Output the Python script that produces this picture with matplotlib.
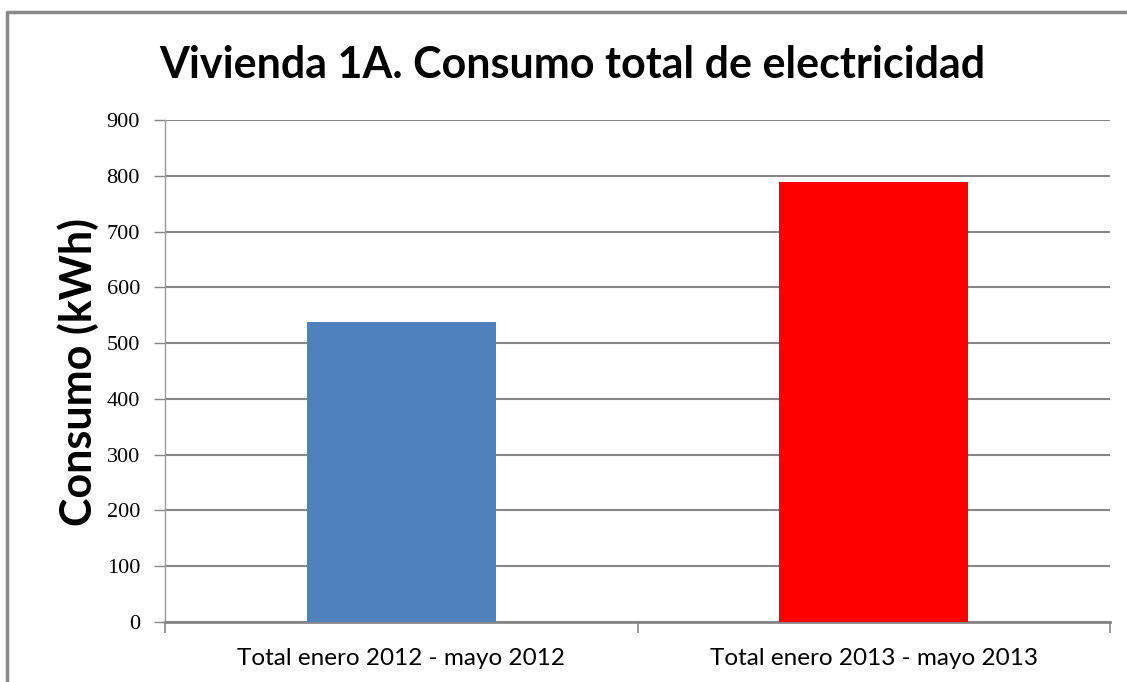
import numpy as np
import matplotlib.pyplot as plt
from matplotlib.lines import Line2D

# data
categorias = ['Total enero 2012 - mayo 2012', 'Total enero 2013 - mayo 2013']
consumo = [538, 789]
colores = ['#4F81BD', '#FF0000']
yticks = [0, 100, 200, 300, 400, 500, 600, 700, 800, 900]

fig = plt.figure(figsize=(11.27, 6.82), dpi=100)
ax = fig.add_axes([0.1464, 0.088, 0.8386, 0.736])

x = np.arange(len(categorias))
ax.bar(x, consumo, width=0.4, color=colores, zorder=3)

ax.set_xlim(-0.5, 1.5)
ax.set_ylim(0, 900)
ax.set_yticks(yticks)
ax.set_yticklabels([str(v) for v in yticks], family='Liberation Serif', fontsize=16)
ax.yaxis.grid(True, color='#868686', linewidth=1.5, zorder=0)

# category labels centred, tick marks at the boundaries
ax.set_xticks(x)
ax.set_xticklabels(categorias, family='Lato', fontsize=17.5)
ax.tick_params(axis='x', length=0, pad=19)
ax.set_xticks([-0.5, 0.5, 1.5], minor=True)
ax.tick_params(axis='x', which='minor', length=8, width=1.2, color='#868686')
ax.tick_params(axis='y', length=8, width=1, color='#868686', pad=10)

for s in ['top', 'right']:
    ax.spines[s].set_visible(False)
ax.spines['left'].set_color('#9a9a9a')
ax.spines['left'].set_linewidth(1)
ax.spines['bottom'].set_color('#868686')
ax.spines['bottom'].set_linewidth(2)

# y label placed by hand so it sits where the original one is
fig.text(0.069, 0.455, 'Consumo (kWh)', rotation=90, ha='center', va='center',
         family='Lato', fontweight='bold', fontsize=31)
fig.text(0.508, 0.905, 'Vivienda 1A. Consumo total de electricidad', ha='center', va='center',
         family='Lato', fontweight='bold', fontsize=31)

# chart frame (only top and left edges are inside the picture)
fig.add_artist(Line2D([0.0065, 0.0065, 1.0], [0.0, 0.9825, 0.9825], transform=fig.transFigure,
                      color='#888888', linewidth=2.5))

fig.savefig('out.png', dpi=100)
